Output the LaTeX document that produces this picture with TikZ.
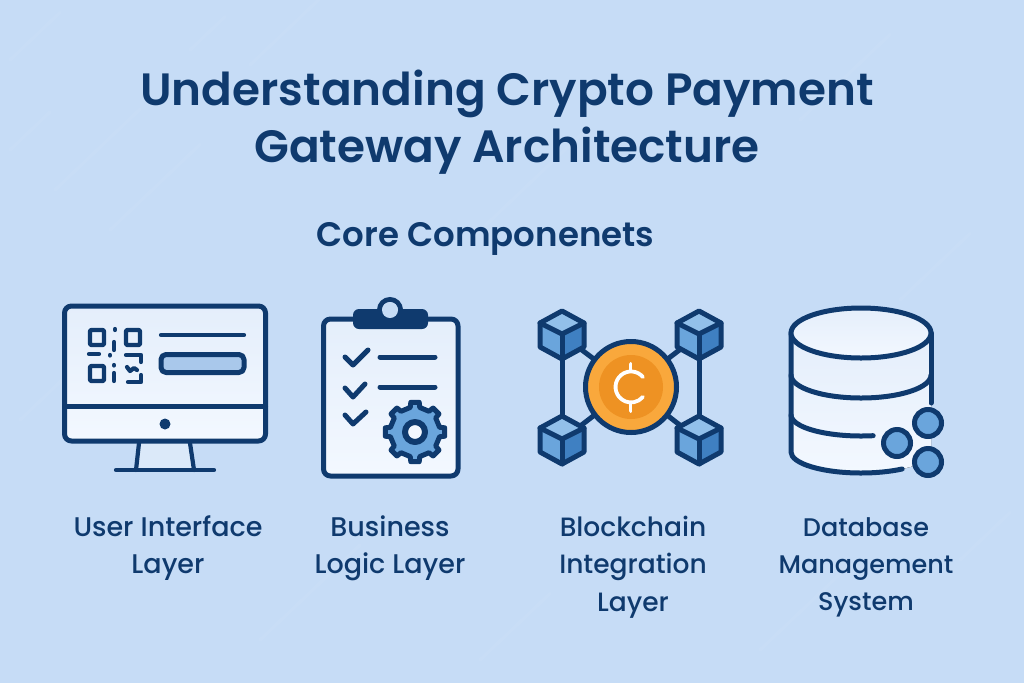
\documentclass[tikz,border=0pt]{standalone}
\usepackage{fontspec}
\setmainfont{Poppins}[FontFace={md}{n}{Font=Poppins Medium},FontFace={sb}{n}{Font=Poppins SemiBold}]
\usetikzlibrary{calc}
\definecolor{navy}{HTML}{0F3A6E}
\definecolor{bgblue}{HTML}{C6DCF6}
\definecolor{streak}{HTML}{D3E5FA}
\definecolor{papertop}{HTML}{E4EEFB}
\definecolor{paperlow}{HTML}{F3F8FF}
\definecolor{midblue}{HTML}{6AA5DC}
\definecolor{lightblue}{HTML}{92C0EA}
\definecolor{deepblue}{HTML}{3F80C2}
\definecolor{barblue}{HTML}{A9C8EB}
\definecolor{coinout}{HTML}{F9A83C}
\definecolor{coinin}{HTML}{EE9223}
\tikzset{
    titletext/.style={text=navy, font=\fontseries{sb}\selectfont\fontsize{45.3}{57}\selectfont, align=center},
    headtext/.style={text=navy, font=\fontseries{sb}\selectfont\fontsize{34}{40}\selectfont},
    labeltext/.style={text=navy, font=\fontseries{md}\selectfont\fontsize{#1}{37.2}\selectfont, align=center, anchor=north},
    labeltext/.default=27,
    icon/.style={draw=navy, line width=5pt, line cap=round, line join=round},
    thin icon/.style={draw=navy, line width=4.2pt, line cap=round, line join=round},
    paper/.style={top color=papertop, bottom color=paperlow},
    dbdot/.style={circle, draw=navy, line width=5pt, fill=midblue, minimum size=27pt, inner sep=0pt}
}
\newcommand{\cubeat}[1]{
	\fill[lightblue] ($(#1)+(0,-24)$) -- ++(22,12) -- ++(-22,11) -- ++(-22,-11) -- cycle;
	\fill[midblue] ($(#1)+(-22,-12)$) -- ++(22,11) -- ++(0,25) -- ++(-22,-12) -- cycle;
	\fill[deepblue] ($(#1)+(22,-12)$) -- ++(-22,11) -- ++(0,25) -- ++(22,-12) -- cycle;
	\draw[icon] ($(#1)+(0,-24)$) -- ++(22,12) -- ++(0,24) -- ++(-22,12) -- ++(-22,-12) -- ++(0,-24) -- cycle;
	\draw[icon] ($(#1)+(-22,-12)$) -- ++(22,11) -- ++(22,-11);
	\draw[icon] ($(#1)+(0,-1)$) -- ++(0,25);
}
\begin{document}
\begin{tikzpicture}[x=1pt, y=-1pt]
	\fill[bgblue] (0,0) rectangle (1024,683);
	\useasboundingbox (0,0) rectangle (1024,683);
	\foreach \x/\y/\l in {10/60/50, 55/190/85, 10/150/40, 190/50/35, 110/230/90, 250/65/70, 470/240/110, 800/120/90, 900/300/70, 260/640/100, 760/650/90, 20/420/60, 480/660/70, 960/560/50}
		\draw[streak, opacity=.22, line width=3pt, line cap=round] (\x,\y) -- ++(\l,-.95*\l);

	\node (title) [titletext] at (507,122.5) {Understanding Crypto Payment\\Gateway Architecture};
	\node (sub) [headtext] at (485.5,238.5) {Core Componenets};

	% monitor
	\fill[papertop!70!bgblue] (139,443) -- (190,443) -- (194,470) -- (136,470) -- cycle;
	\draw[thin icon] (139,443) -- (136,470); \draw[thin icon] (190,443) -- (194,470);
	\draw[thin icon] (116,470) -- (214,470);
	\draw[icon, paper, rounded corners=7pt] (64.5,306) rectangle (265.5,441);
	\draw[icon] (64.5,406) -- (265.5,406);
	\node (dot) [circle, fill=navy, minimum size=11pt, inner sep=0pt] at (165,424) {};
	\draw[thin icon, rounded corners=1pt] (90,330) rectangle (104,345);
	\draw[thin icon, rounded corners=1pt] (126,330) rectangle (140,345);
	\draw[thin icon, rounded corners=1pt] (90,366) rectangle (104,381);
	\draw[thin icon] (114,342) -- (114,350); \draw[thin icon] (89,354) -- (99,354);
	\draw[thin icon] (115,329) -- (115,330); \draw[thin icon] (110,355) -- (110,355.5);
	\draw[thin icon] (114,365) -- (114,365.5); \draw[thin icon] (114,373) -- (114,381);
	\draw[thin icon] (126,355) -- (141,355) -- (141,362);
	\draw[thin icon] (127,367) -- (130,371) -- (134,368) -- (137,370);
	\draw[thin icon] (128,382) -- (141,382) -- (141,375);
	\draw[thin icon] (161,335) -- (244,335);
	\draw[icon, fill=barblue, rounded corners=5pt] (161,354.5) rectangle (244,372.5);

	% clipboard
	\draw[icon, paper, rounded corners=7pt] (323.5,319) rectangle (458,476);
	\draw[line width=5pt, draw=navy, fill=bgblue] (390,310) circle (10.5);
	\fill[navy, rounded corners=6pt] (353,309) rectangle (428,329);
	\fill[navy] (373,309) rectangle (407,322);
	\fill[bgblue] (390,310) circle (8);
	\draw[icon] (345,357) -- (353,365) -- (368,350);
	\draw[icon] (345,388) -- (353,397) -- (365,384);
	\draw[icon] (345,415) -- (353,424) -- (366,412);
	\draw[icon] (380,357) -- (435,357); \draw[icon] (380,387) -- (435,387);
	\begin{scope}[shift={(415,432)}]
		\draw[icon, fill=midblue] (-11:25) \foreach \a in {0,45,...,315} {
			-- (\a-11:25) -- (\a-8:30) -- (\a+8:30) -- (\a+11:25) } -- cycle;
		\draw[icon, line width=6pt, fill=paperlow] (0,0) circle (10);
	\end{scope}

	% blockchain
	\coordinate (coinc) at (631,387);
	\coordinate (cubea) at (562,335); \coordinate (cubeb) at (699,335);
	\coordinate (cubec) at (562,440); \coordinate (cubed) at (699,440);
	\draw[icon] (cubea) -- (cubec); \draw[icon] (cubeb) -- (cubed);
	\draw[icon] (coinc) -- (cubea); \draw[icon] (coinc) -- (cubeb);
	\draw[icon] (coinc) -- (cubec); \draw[icon] (coinc) -- (cubed);
	\cubeat{cubea} \cubeat{cubeb} \cubeat{cubec} \cubeat{cubed}
	\node (coin) [circle, draw=navy, line width=5pt, fill=coinout, minimum size=91pt, inner sep=0pt] at (coinc) {};
	\node (coinin) [circle, fill=coinin, minimum size=64pt, inner sep=0pt] at (coinc) {};
	\draw[white, line width=3.8pt, line cap=round] (642.9,377) arc[start angle=-40, end angle=-320, radius=15.5];
	\draw[white, line width=3.8pt, line cap=round] (630.5,364) -- (630.5,371);
	\draw[white, line width=3.8pt, line cap=round] (630.5,403) -- (630.5,411);

	% database
	\fill[paper] (791,333) -- (791,452) arc[start angle=180, end angle=0, x radius=70, y radius=21] -- (931,333) -- cycle;
	\draw[icon] (791,333) -- (791,452) arc[start angle=180, end angle=54, x radius=70, y radius=21];
	\draw[icon] (931,333) -- (931,403);
	\draw[icon, paper] (861,333) ellipse (70 and 25);
	\draw[icon] (791,375) arc[start angle=180, end angle=0, x radius=70, y radius=23];
	\draw[icon] (791,415) arc[start angle=180, end angle=80, x radius=70, y radius=21];
	\node (dba) [dbdot] at (897,443) {};
	\node (dbb) [dbdot] at (928,423) {};
	\node (dbc) [dbdot] at (928,462) {};

	\node (ui) [labeltext] at (168,512) {User Interface\\Layer};
	\node (logic) [labeltext] at (390,512) {Business\\Logic Layer};
	\node (chain) [labeltext=26.5] at (633,512.7) {Blockchain\\Integration\\Layer};
	\node (dbms) [labeltext=25.5] at (866,513.7) {Database\\Management\\System};
\end{tikzpicture}
\end{document}
